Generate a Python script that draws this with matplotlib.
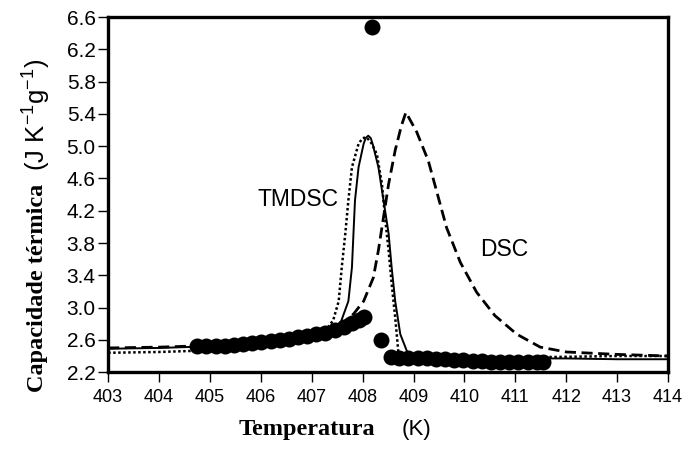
import matplotlib
matplotlib.use("Agg")
import matplotlib.pyplot as plt

plt.rcParams['font.family'] = ['Liberation Sans', 'DejaVu Sans']
plt.rcParams['mathtext.fontset'] = 'custom'
plt.rcParams['mathtext.rm'] = 'Liberation Sans'
plt.rcParams['mathtext.it'] = 'Liberation Sans:italic'

# TMDSC (linha contínua)
tm_x = [403.0, 404.0, 405.0, 406.0, 406.8, 407.3, 407.56, 407.72, 407.79, 407.82,
        407.85, 407.92, 408.02, 408.06, 408.11, 408.16, 408.2, 408.31, 408.41,
        408.51, 408.57, 408.64, 408.74, 408.87, 409.0, 409.5, 410.0, 411.0,
        412.0, 413.0, 414.0]
tm_y = [2.49, 2.50, 2.52, 2.55, 2.60, 2.68, 2.80, 3.08, 3.50, 3.92,
        4.33, 4.74, 5.03, 5.10, 5.13, 5.10, 5.02, 4.74, 4.33,
        3.92, 3.50, 3.08, 2.67, 2.46, 2.41, 2.39, 2.38, 2.37,
        2.37, 2.36, 2.36]

# TMDSC (pontilhado)
tm2_x = [403.0, 404.0, 405.0, 406.0, 406.8, 407.2, 407.42, 407.53, 407.59, 407.66,
         407.72, 407.79, 407.92, 408.0, 408.08, 408.18, 408.28, 408.38, 408.44,
         408.51, 408.57, 408.64, 408.70, 408.8, 409.5, 410.5, 412.0, 413.0, 414.0]
tm2_y = [2.44, 2.45, 2.47, 2.51, 2.57, 2.66, 2.84, 3.08, 3.50, 3.92,
         4.33, 4.74, 5.03, 5.10, 5.11, 5.03, 4.90, 4.53, 4.12,
         3.71, 3.30, 2.88, 2.46, 2.40, 2.39, 2.38, 2.39, 2.40, 2.40]

# DSC (tracejado)
dsc_x = [403.0, 404.0, 405.0, 406.0, 407.0, 407.5, 407.82, 408.02, 408.21, 408.31,
         408.41, 408.51, 408.64, 408.76, 408.85, 409.06, 409.29, 409.65, 409.92,
         410.24, 410.6, 411.03, 411.49, 412.0, 413.0, 414.0]
dsc_y = [2.50, 2.51, 2.53, 2.57, 2.66, 2.76, 2.92, 3.08, 3.37, 3.71,
         4.12, 4.53, 4.95, 5.25, 5.42, 5.18, 4.82, 3.99, 3.56,
         3.19, 2.90, 2.67, 2.51, 2.45, 2.42, 2.40]

# pontos experimentais
pts_x = [404.75, 404.93, 405.11, 405.29, 405.47, 405.65, 405.83, 406.01, 406.19,
         406.37, 406.55, 406.73, 406.91, 407.09, 407.27, 407.45, 407.63, 407.8,
         407.92, 408.02, 408.19, 408.36,
         408.55, 408.72, 408.9, 409.08, 409.26, 409.44, 409.62, 409.8, 409.98,
         410.16, 410.34, 410.52, 410.7, 410.88, 411.06, 411.24, 411.42, 411.55]
pts_y = [2.52, 2.52, 2.53, 2.53, 2.54, 2.55, 2.56, 2.57, 2.58,
         2.60, 2.61, 2.63, 2.65, 2.67, 2.69, 2.72, 2.76, 2.81,
         2.85, 2.88, 6.48, 2.60,
         2.39, 2.38, 2.38, 2.37, 2.37, 2.36, 2.36, 2.35, 2.35,
         2.34, 2.34, 2.33, 2.33, 2.33, 2.32, 2.32, 2.32, 2.32]

xticks = list(range(403, 415))
yticks = [2.2, 2.6, 3.0, 3.4, 3.8, 4.2, 4.6, 5.0, 5.4, 5.8, 6.2, 6.6]

fig = plt.figure(figsize=(6.89, 4.5), dpi=100)
ax = fig.add_axes([0.157, 0.173, 0.8125, 0.789])

ax.plot(tm_x, tm_y, color='black', lw=1.4)
ax.plot(tm2_x, tm2_y, color='black', lw=1.8, linestyle=(0, (1, 1)))
ax.plot(dsc_x, dsc_y, color='black', lw=2.0, dashes=(4, 2))
ax.plot(pts_x, pts_y, 'o', color='black', markersize=11.5,
        markeredgewidth=0, zorder=3, clip_on=False)

ax.set_xlim(403, 414)
ax.set_ylim(2.2, 6.6)
ax.set_xticks(xticks)
ax.set_yticks(yticks)
ax.set_yticklabels([f"{v:.1f}" for v in yticks])
ax.tick_params(axis='x', direction='out', length=7, width=1, labelsize=13, pad=5)
ax.tick_params(axis='y', direction='out', length=7, width=1, labelsize=15, pad=2)
for s in ax.spines.values():
    s.set_linewidth(2.4)

ax.text(405.93, 4.34, "TMDSC", fontsize=16.5, va='center', ha='left')
ax.text(410.31, 3.72, "DSC", fontsize=16.5, va='center', ha='left')

# rótulos dos eixos (serifa negrito + unidade sem serifa)
fig.text(0.445, 0.045, "Temperatura", family='Liberation Serif', weight='bold',
         fontsize=17.5, ha='center', va='center')
fig.text(0.605, 0.045, "(K)", fontsize=16, ha='center', va='center')
fig.text(0.054, 0.361, "Capacidade térmica", family='Liberation Serif', weight='bold',
         fontsize=17.5, rotation=90, ha='center', va='center')
fig.text(0.054, 0.744, r"(J K$^{-1}$g$^{-1}$)", fontsize=18.5, rotation=90,
         ha='center', va='center')

fig.savefig("out.png", dpi=100)
